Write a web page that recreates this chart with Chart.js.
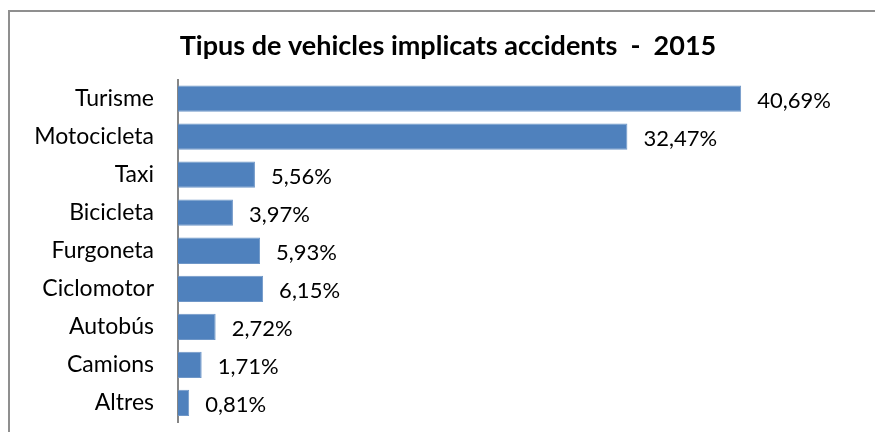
<!DOCTYPE html>
<html lang="ca">
<head>
    <meta charset="UTF-8">
    <title>Tipus de vehicles implicats accidents - 2015</title>
    <style>
        body {
            margin: 0;
            background-color: #fff;
        }
        canvas {
            display: block;
        }
    </style>
    <script src="https://cdn.jsdelivr.net/npm/chart.js"></script>
</head>
<body>
    <canvas id="vehChart" width="875" height="432"></canvas>
    <script>
        const categories = ['Turisme', 'Motocicleta', 'Taxi', 'Bicicleta', 'Furgoneta', 'Ciclomotor', 'Autobús', 'Camions', 'Altres'];
        const percents = [40.69, 32.47, 5.56, 3.97, 5.93, 6.15, 2.72, 1.71, 0.81];
        const chartTitle = 'Tipus de vehicles implicats accidents  -  2015';

        const font = "Lato, 'Liberation Sans', sans-serif";

        // grey frame of the Excel chart object (only left/top edges are in the crop)
        const frame = {
            id: 'frame',
            beforeDraw(chart) {
                const ctx = chart.ctx;
                ctx.save();
                ctx.strokeStyle = '#8f8f8f';
                ctx.lineWidth = 2;
                ctx.beginPath();
                ctx.moveTo(9, chart.height);
                ctx.lineTo(9, 11);
                ctx.lineTo(chart.width, 11);
                ctx.stroke();
                ctx.restore();
            }
        };

        // write the % next to each bar, Excel style
        const valueLabels = {
            id: 'valueLabels',
            afterDatasetsDraw(chart) {
                const ctx = chart.ctx;
                const meta = chart.getDatasetMeta(0);
                ctx.save();
                ctx.font = '22px ' + font;
                ctx.fillStyle = '#000';
                ctx.textAlign = 'left';
                ctx.textBaseline = 'middle';
                meta.data.forEach((bar, i) => {
                    const txt = percents[i].toFixed(2).replace('.', ',') + '%';
                    ctx.fillText(txt, bar.x + 16, bar.y + 2);
                });
                ctx.restore();
            }
        };

        const ctx = document.getElementById('vehChart').getContext('2d');
        const chart = new Chart(ctx, {
            type: 'bar',
            data: {
                labels: categories,
                datasets: [{
                    data: percents,
                    backgroundColor: '#4f81bd',
                    borderColor: '#6f97c8',
                    borderWidth: 1,
                    barPercentage: 1,
                    categoryPercentage: 0.69
                }]
            },
            options: {
                indexAxis: 'y',
                responsive: false,
                animation: false,
                layout: {
                    padding: { left: 26, right: 5, top: 0, bottom: 10 }
                },
                scales: {
                    x: {
                        display: false,
                        min: 0,
                        max: 50
                    },
                    y: {
                        afterFit(scale) {
                            scale.width = 152;
                            // tick padding would otherwise eat into the plot height
                            scale.paddingTop = 0;
                            scale.paddingBottom = 0;
                        },
                        grid: { display: false, drawTicks: false },
                        border: { display: true, color: '#868686', width: 2 },
                        ticks: {
                            padding: 24,
                            color: '#000',
                            font: { family: font, size: 23 }
                        }
                    }
                },
                plugins: {
                    legend: { display: false },
                    tooltip: { enabled: false },
                    title: {
                        display: true,
                        text: chartTitle,
                        color: '#000',
                        padding: { top: 29, bottom: 15.4 },
                        font: { family: font, size: 27, weight: 'bold', lineHeight: 1.3 }
                    }
                }
            },
            plugins: [frame, valueLabels]
        });
    </script>
</body>
</html>
